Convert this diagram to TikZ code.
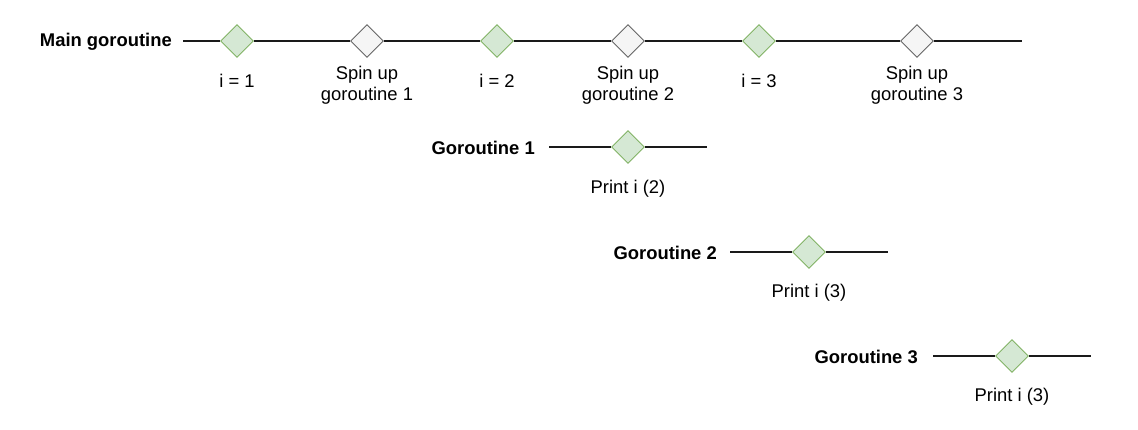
\documentclass[tikz,border=0pt]{standalone}
\usepackage{fontspec}
\setmainfont{Liberation Sans}
\usetikzlibrary{shapes.geometric}
\definecolor{gfill}{HTML}{D5E8D4}
\definecolor{gdraw}{HTML}{82B366}
\definecolor{wfill}{HTML}{F5F5F5}
\definecolor{wdraw}{HTML}{666666}
\definecolor{linec}{HTML}{1A1A1A}
\tikzset{
  gdia/.style={diamond, draw=gdraw, fill=gfill, minimum width=33pt, minimum height=33pt, inner sep=0pt, line width=0.9pt},
  wdia/.style={diamond, draw=wdraw, fill=wfill, minimum width=33pt, minimum height=33pt, inner sep=0pt, line width=0.9pt},
  lbl/.style={font=\fontsize{18.4pt}{21pt}\selectfont, align=center, inner sep=0pt},
  tl/.style={font=\bfseries\fontsize{18.4pt}{21pt}\selectfont, inner sep=0pt, anchor=east},
  tline/.style={draw=linec, line width=1.2pt}
}
\begin{document}
\begin{tikzpicture}[x=1pt,y=-1pt]
\useasboundingbox (0,0) rectangle (1138,429);
% Main goroutine
\node[tl] (mt) at (172,42) {Main goroutine};
\coordinate (ms) at (183,41);
\coordinate (me) at (1022,41);
\node[gdia] (d1) at (237,41) {};
\node[wdia] (d2) at (367,41) {};
\node[gdia] (d3) at (497,41) {};
\node[wdia] (d4) at (628,41) {};
\node[gdia] (d5) at (759,41) {};
\node[wdia] (d6) at (917,41) {};
\draw[tline] (ms) -- (d1) -- (d2) -- (d3) -- (d4) -- (d5) -- (d6) -- (me);
\node[lbl] (l1) at (237,81) {i = 1};
\node[lbl] (l2) at (367,85) {Spin up\\goroutine 1};
\node[lbl] (l3) at (497,81) {i = 2};
\node[lbl] (l4) at (628,85) {Spin up\\goroutine 2};
\node[lbl] (l5) at (759,81) {i = 3};
\node[lbl] (l6) at (917,85) {Spin up\\goroutine 3};
% Goroutine 1
\node[tl] (g1) at (535,148) {Goroutine 1};
\coordinate (g1s) at (549,147);
\coordinate (g1e) at (707,147);
\node[gdia] (p1) at (628,147) {};
\draw[tline] (g1s) -- (p1) -- (g1e);
\node[lbl] (pl1) at (628,189) {Print i (2)};
% Goroutine 2
\node[tl] (g2) at (717,253) {Goroutine 2};
\coordinate (g2s) at (730,252);
\coordinate (g2e) at (888,252);
\node[gdia] (p2) at (809,252) {};
\draw[tline] (g2s) -- (p2) -- (g2e);
\node[lbl] (pl2) at (809,293) {Print i (3)};
% Goroutine 3
\node[tl] (g3) at (918,357) {Goroutine 3};
\coordinate (g3s) at (933,356);
\coordinate (g3e) at (1091,356);
\node[gdia] (p3) at (1012,356) {};
\draw[tline] (g3s) -- (p3) -- (g3e);
\node[lbl] (pl3) at (1012,397) {Print i (3)};
\end{tikzpicture}
\end{document}
